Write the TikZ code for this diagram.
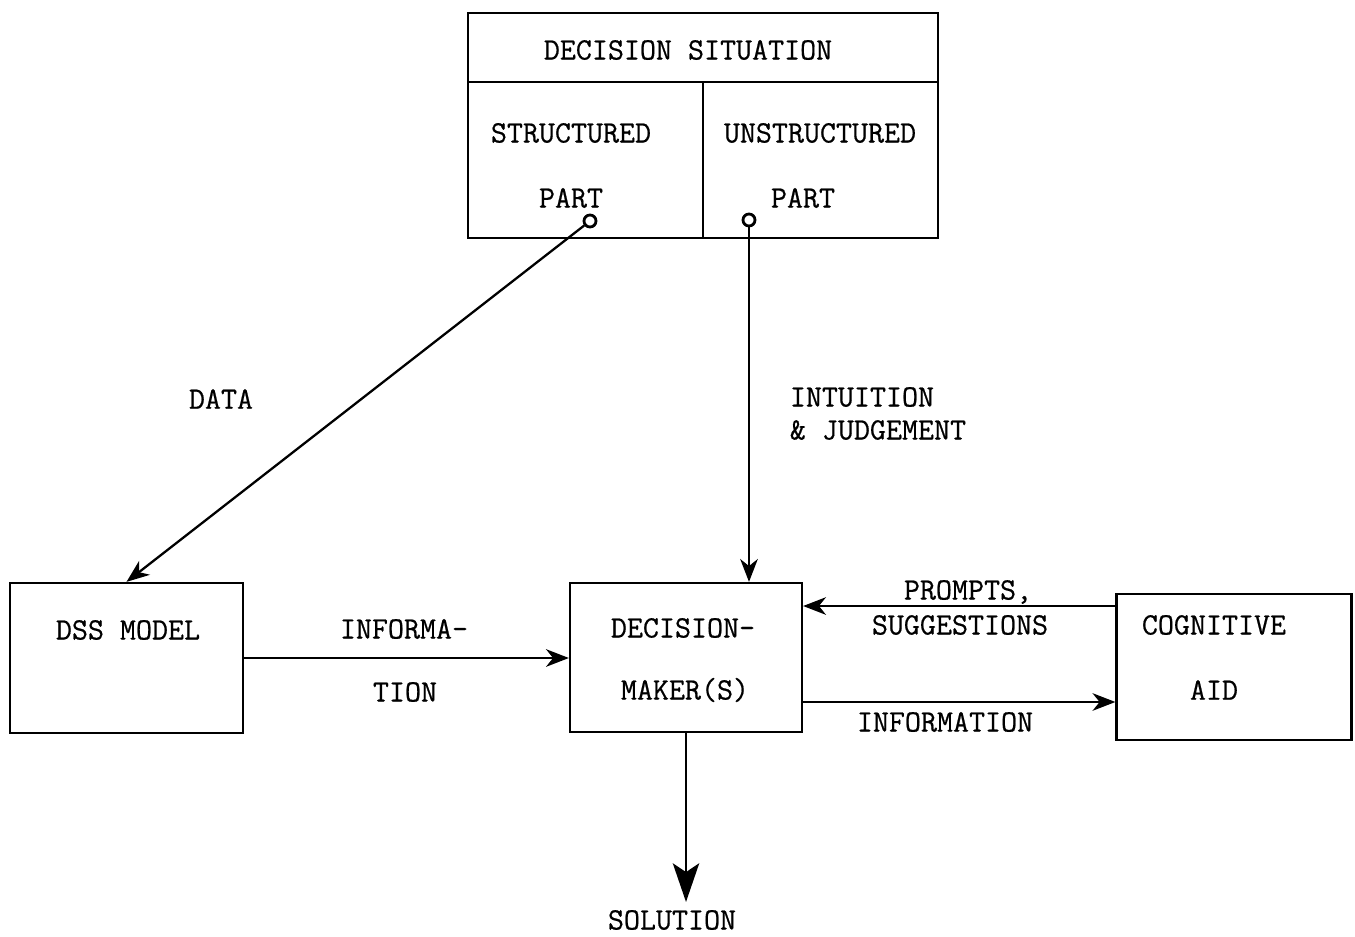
\documentclass[tikz,border=0pt]{standalone}
\usepackage{fontspec}
\newfontfamily\typewriter[FakeBold=0.6]{Latin Modern Mono}
\usetikzlibrary{arrows.meta}

\tikzset{
	box/.style={draw, rectangle, inner sep=0pt},
	lbl/.style={font=\typewriter\fontsize{17.7}{20}\selectfont, inner sep=1pt},
	port/.style={draw, circle, inner sep=0pt, minimum size=0.24cm, line width=1.6pt},
	arr/.style={-{Stealth[length=13pt,width=10pt,inset=4pt]}},
	bigarr/.style={-{Stealth[length=22pt,width=15pt,inset=5pt]}},
}

\begin{document}
\begin{tikzpicture}[x=0.02cm, y=-0.02cm, line width=1.3pt]
	\useasboundingbox (0,0) rectangle (1355,936);

	% Ситуация принятия решения
	\node[box, minimum width=9.4cm, minimum height=4.5cm] (sit) at (703,125.5) {};
	\draw (468,82) -- (938,82);
	\draw (703,82) -- (703,238);

	% Блоки
	\node[box, minimum width=4.66cm, minimum height=3cm] (dss) at (126.5,658) {};
	\node[box, minimum width=4.64cm, minimum height=2.98cm] (dm) at (686,657.5) {};
	\node[box, minimum width=4.7cm, minimum height=2.92cm] (cog) at (1234,667) {};

	% Точки
	\node[port] (sp) at (590,221) {};
	\node[port] (up) at (749,220) {};

	% Тексты
	\node[lbl] (sittxt) at (688,50) {DECISION SITUATION};
	\node[lbl] (strA) at (571,133) {STRUCTURED};
	\node[lbl] (partA) at (571,198) {PART};
	\node[lbl] (unsA) at (820,133) {UNSTRUCTURED};
	\node[lbl] (partB) at (803,198) {PART};

	\node[lbl] (dsstxt) at (128,630) {DSS MODEL};
	\node[lbl] (dmA) at (683,628) {DECISION-};
	\node[lbl] (dmB) at (685,690) {MAKER(S)};
	\node[lbl] (cogA) at (1214,625) {COGNITIVE};
	\node[lbl] (cogB) at (1214,690) {AID};

	\node[lbl] (data) at (221,399) {DATA};
	\node[lbl, anchor=west] (intu) at (787,397) {INTUITION};
	\node[lbl, anchor=west] (judg) at (787,430) {\& JUDGEMENT};
	\node[lbl] (infA) at (404,629) {INFORMA-};
	\node[lbl] (infB) at (405,692) {TION};
	\node[lbl] (prm) at (968,592) {PROMPTS,};
	\node[lbl] (sug) at (960,625) {SUGGESTIONS};
	\node[lbl] (inf) at (945,722) {INFORMATION};
	\node[lbl] (sol) at (672,920) {SOLUTION};

	% Стрелки
	\draw[arr] (sp) -- (dss.north);
	\draw[arr] (up) -- (up |- dm.north);
	\draw[arr] (dss.east) -- (dss.east -| dm.west);
	\draw[arr] ([yshift=1.22cm]cog.west) -- ([yshift=1.22cm]cog.west -| dm.east);
	\draw[arr] ([yshift=-0.7cm]cog.west -| dm.east) -- ([yshift=-0.7cm]cog.west);
	\draw[bigarr] (dm.south) -- ([yshift=3pt]dm.south |- sol.north);
\end{tikzpicture}
\end{document}
